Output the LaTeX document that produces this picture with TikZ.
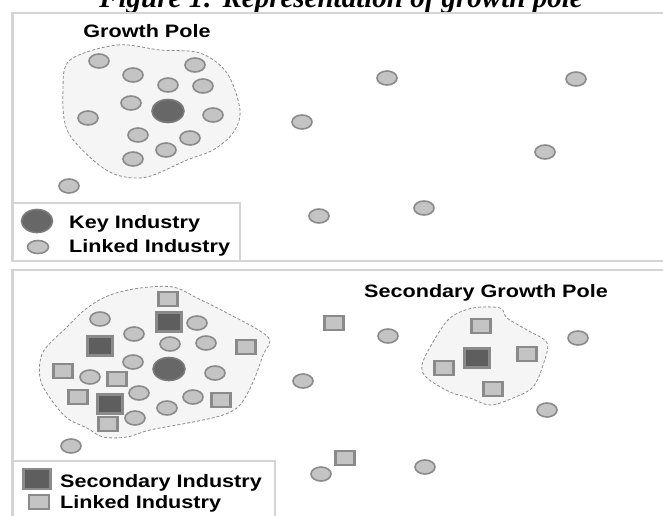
\documentclass[tikz,border=0pt]{standalone}
\usepackage{fontspec}
\newfontfamily\labelfont[FakeStretch=1.2]{Liberation Sans}
\newfontfamily\captionfont{Liberation Serif}
\usetikzlibrary{shapes.geometric}
\definecolor{framegray}{HTML}{D4D4D4}
\definecolor{dotfill}{HTML}{C4C4C4}
\definecolor{dotedge}{HTML}{8A8A8A}
\definecolor{keyfill}{HTML}{676767}
\definecolor{keyedge}{HTML}{7C7C7C}
\definecolor{secfill}{HTML}{5E5E5E}
\definecolor{polefill}{HTML}{F4F5F4}
\definecolor{poleedge}{HTML}{8C8C8C}

\begin{document}
\begin{tikzpicture}[x=1pt, y=-1pt,
    linked/.style={
        ellipse, draw=dotedge, fill=dotfill, line width=1.6pt,
        minimum width=20pt, minimum height=14pt, inner sep=0pt
    },
    keyind/.style={
        ellipse, draw=keyedge, fill=keyfill, line width=1.6pt,
        minimum width=32pt, minimum height=23pt, inner sep=0pt
    },
    linkedsq/.style={
        rectangle, draw=dotedge, fill=dotfill, line width=2.6pt,
        minimum width=19pt, minimum height=14pt, inner sep=0pt
    },
    secind/.style={
        rectangle, draw=dotedge, fill=secfill, line width=2.6pt,
        minimum width=25pt, minimum height=19pt, inner sep=0pt
    },
    pole/.style={draw=poleedge, fill=polefill, dash pattern=on 3pt off 2pt, line width=0.8pt},
    panel/.style={draw=framegray, line width=2.5pt},
    legendbox/.style={draw=framegray, fill=white, line width=2pt},
    lbl/.style={font=\labelfont\bfseries\fontsize{18}{18}\selectfont, inner sep=0pt}
]
\useasboundingbox[fill=white] (0,0) rectangle (663,515);

% Titulo (cortado por arriba)
\node[font=\captionfont\bfseries\itshape\fontsize{29}{29}\selectfont, anchor=base, inner sep=0pt]
    (caption) at (341,7) {Figure 1: Representation of growth pole};

% Paneles
\draw[panel] (12.5,13) rectangle (680,261);
\draw[panel] (12.5,270) rectangle (680,540);

% Zonas de los polos
\path[pole] plot[smooth cycle, tension=0.55] coordinates {
    (70,60) (117,45) (160,50) (200,53) (227,73) (240,110) (233,133) (213,150)
    (187,160) (147,177) (117,175) (93,160) (67,130) (63,90)};
\path[pole] plot[smooth cycle, tension=0.55] coordinates {
    (43,352) (67,327) (87,308) (110,295) (140,288) (173,287) (197,298) (227,313)
    (268,337) (263,355) (253,382) (240,405) (223,415) (193,422) (150,430)
    (127,437) (103,437) (87,428) (67,418) (50,398) (40,378)};
\path[pole] plot[smooth cycle, tension=0.55] coordinates {
    (422,365) (433,342) (450,318) (473,308) (500,308) (507,318) (527,330)
    (547,343) (543,365) (533,387) (513,398) (490,405) (470,398) (450,392) (427,378)};

% Panel superior
\node[lbl, anchor=base] (pole1) at (147,37) {Growth Pole};
\foreach \x/\y [count=\i] in {99/61, 133/75, 195/65, 168/85, 203/86, 131/103,
    213/115, 88/118, 138/135, 190/138, 166/150, 133/159, 69/186, 387/78,
    576/79, 302/122, 545/152, 319/216, 424/208}
    \node[linked] (a\i) at (\x,\y) {};
\node[keyind] (key1) at (168,111) {};

% Panel inferior
\node[lbl, anchor=base] (pole2) at (486,297) {Secondary Growth Pole};
\foreach \x/\y [count=\i] in {100/319, 134/334, 197/323, 170/344, 206/343,
    133/362, 215/373, 90/377, 139/393, 193/397, 167/408, 135/418, 71/446,
    388/336, 578/338, 303/381, 547/410, 321/474, 425/467}
    \node[linked] (b\i) at (\x,\y) {};
\node[keyind] (key2) at (169,369) {};
\foreach \x/\y [count=\i] in {168/299, 246/347, 63/371, 117/379, 78/397,
    221/400, 108/424, 334/323, 481/326, 527/354, 444/368, 493/389, 345/458}
    \node[linkedsq] (s\i) at (\x,\y) {};
\foreach \x/\y [count=\i] in {169/322, 100/346, 110/404, 477/358}
    \node[secind] (d\i) at (\x,\y) {};

% Leyendas
\draw[legendbox] (12.5,203) rectangle (240,261);
\node[keyind, minimum width=31pt, minimum height=23pt] (keyA) at (37,221) {};
\node[linked, minimum width=21pt, minimum height=13pt] (linkA) at (38,247) {};
\node[lbl, anchor=base west] (keyAtxt) at (69,228) {Key Industry};
\node[lbl, anchor=base west] (linkAtxt) at (69,252) {Linked Industry};

\draw[legendbox] (12.5,461) rectangle (275,540);
\node[secind, minimum width=27pt, minimum height=20pt] (secB) at (37,479) {};
\node[linkedsq, minimum width=20pt, minimum height=14pt] (linkB) at (39,502) {};
\node[lbl, anchor=base west] (secBtxt) at (60,487) {Secondary Industry};
\node[lbl, anchor=base west] (linkBtxt) at (60,508) {Linked Industry};

\end{tikzpicture}
\end{document}
